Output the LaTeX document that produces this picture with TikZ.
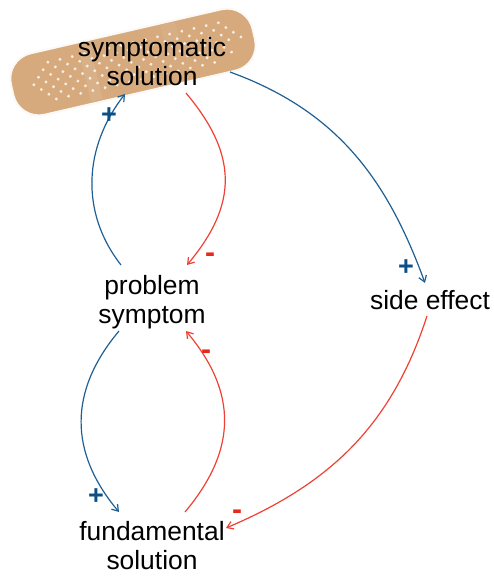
\documentclass[tikz,border=0pt]{standalone}
\usepackage{fontspec}
\setmainfont{Liberation Sans}
\usetikzlibrary{arrows.meta}
\definecolor{plusblue}{HTML}{0B4F86}
\definecolor{linkblue}{HTML}{1F5F94}
\definecolor{minusred}{HTML}{E8281A}
\definecolor{linkred}{HTML}{EE4033}
\definecolor{plaster}{HTML}{D6AA7D}
\tikzset{
  var/.style={align=center,inner sep=1pt,font=\fontsize{26.4}{29}\selectfont},
  poslink/.style={-{Straight Barb[length=6pt,width=8pt]},linkblue,line width=1.2pt},
  neglink/.style={-{Straight Barb[length=6pt,width=8pt]},linkred,line width=1.2pt},
  plussign/.style={plusblue,inner sep=0pt,font=\fontsize{27}{27}\selectfont\bfseries},
  minussign/.style={minusred,inner sep=0pt,font=\fontsize{30}{30}\selectfont\bfseries},
  hole/.style={white,opacity=0.8}
}
\begin{document}
\begin{tikzpicture}[x=1pt,y=-1pt]
  \useasboundingbox (0,0) rectangle (494,576);

  % plaster
  \begin{scope}[shift={(133,62)},rotate=13]
    \draw[white!92!plaster,line width=2pt,fill=plaster,rounded corners=26pt]
      (-124,-31.5) rectangle (124,31.5);
    \fill[white!30!plaster,opacity=0.3] (-50,-29) rectangle (-38,29);
    \fill[white!30!plaster,opacity=0.2] (35,-30) rectangle (50,-12);
    \foreach \j/\a/\b in {0/2/16,1/1/16,2/1/17,3/0/17,4/1/16,5/1/16,6/2/15} {
      \foreach \i in {\a,...,\b} {
        \fill[hole] ({-108+\i*12.5+mod(\j,2)*6.25},{-19+\j*6.3}) circle (1.6);
      }
    }
  \end{scope}

  \node[var] (symptomatic) at (152,62) {symptomatic\\solution};
  \node[var] (problem) at (152,302) {problem\\symptom};
  \node[var] (fundamental) at (152,546) {fundamental\\solution};
  \node[var] (side) at (430,300) {side effect};

  \draw[poslink] ([shift={(-31,-37)}]problem.center) to[out=128,in=232,looseness=1] ([shift={(-27,32)}]symptomatic.center);
  \draw[neglink] ([shift={(34,31)}]symptomatic.center) to[out=-50,in=50,looseness=1.19] ([shift={(35,-37)}]problem.center);
  \draw[poslink] ([shift={(78,10)}]symptomatic.center) to[out=-20,in=110,looseness=1] ([shift={(-5,-17)}]side.center);
  \draw[neglink] ([shift={(-3,16)}]side.center) to[out=-108,in=23,looseness=1] ([shift={(74,-18)}]fundamental.center);
  \draw[neglink] ([shift={(33,-34)}]fundamental.center) to[out=50,in=-50,looseness=1.14] ([shift={(34,29)}]problem.center);
  \draw[poslink] ([shift={(-33,29)}]problem.center) to[out=-130,in=130,looseness=1.11] ([shift={(-33,-34)}]fundamental.center);

  \node[plussign] (plusa) at (109,116) {+};
  \node[minussign] (minusa) at (210,258) {-};
  \node[plussign] (plusb) at (406,268) {+};
  \node[minussign] (minusb) at (206,355) {-};
  \node[plussign] (plusc) at (96,497) {+};
  \node[minussign] (minusc) at (237,515) {-};
\end{tikzpicture}
\end{document}
